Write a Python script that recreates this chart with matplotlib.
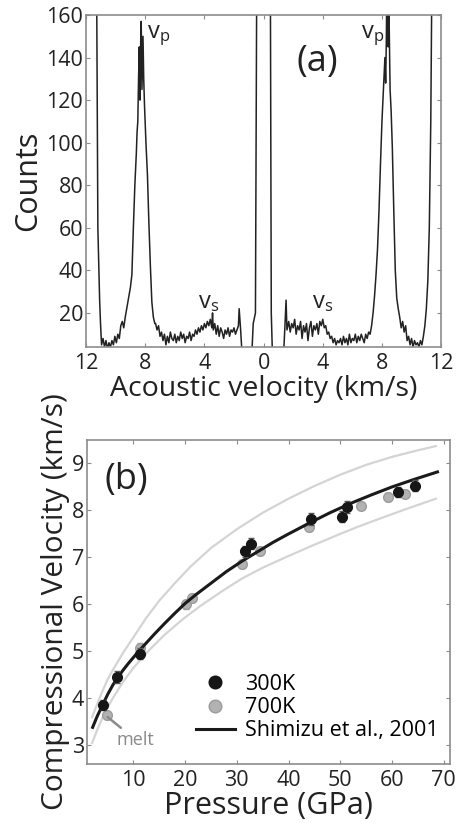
import numpy as np
import matplotlib
matplotlib.use("Agg")
import matplotlib.pyplot as plt
from matplotlib.container import ErrorbarContainer

plt.rcParams["font.family"] = ["Open Sans", "DejaVu Sans"]
plt.rcParams["mathtext.fontset"] = "custom"
plt.rcParams["mathtext.rm"] = "Open Sans"

# (a) spectrum, left half (negative side) and right half
vel_left = [-11.3, -11.2, -11.08, -11.02, -10.95, -10.85, -10.75, -10.65, -10.55, -10.45,
            -10.35, -10.25, -10.15, -10.05, -9.95, -9.85, -9.75, -9.65, -9.55, -9.45,
            -9.35, -9.25, -9.15, -9.05, -9.0, -8.9, -8.8, -8.7, -8.6, -8.55,
            -8.5, -8.45, -8.4, -8.35, -8.3, -8.27, -8.22, -8.15, -8.1, -8.05,
            -7.95, -7.85, -7.75, -7.65, -7.55, -7.45, -7.35, -7.3, -7.2, -7.1,
            -7.0, -6.9, -6.8, -6.7, -6.6, -6.5, -6.4, -6.3, -6.2, -6.1,
            -6.0, -5.9, -5.8, -5.7, -5.6, -5.5, -5.4, -5.3, -5.2, -5.1,
            -5.0, -4.9, -4.8, -4.7, -4.6, -4.5, -4.4, -4.3, -4.2, -4.1,
            -4.0, -3.9, -3.8, -3.7, -3.6, -3.5, -3.45, -3.4, -3.3, -3.2,
            -3.1, -3.0, -2.9, -2.8, -2.7, -2.6, -2.5, -2.4, -2.3, -2.2,
            -2.1, -2.0, -1.9, -1.8, -1.7, -1.65, -1.55, -1.45, -0.8, -0.7,
            -0.55, -0.45]
cnt_left = [200, 60, 26, 15, 5, 8, 4, 7, 3, 6,
            4, 7, 5, 9, 6, 10, 8, 14, 16, 13,
            18, 22, 26, 30, 32, 38, 60, 80, 95, 105,
            110, 130, 145, 120, 150, 157, 125, 150, 130, 118,
            100, 85, 62, 42, 25, 18, 15, 15, 12, 14,
            9, 11, 7, 10, 5, 9, 6, 11, 8, 7,
            10, 6, 9, 7, 11, 8, 10, 6, 9, 8,
            11, 7, 10, 9, 12, 10, 13, 11, 14, 12,
            15, 13, 16, 14, 17, 13, 20, 12, 15, 10,
            14, 9, 13, 11, 8, 12, 10, 13, 9, 12,
            11, 13, 10, 12, 14, 22, 12, 0, 0, 15,
            20, 200]

vel_right = [0.45, 0.52, 0.6, 1.35, 1.45, 1.52, 1.58, 1.7, 1.8, 1.9,
             2.0, 2.1, 2.2, 2.3, 2.4, 2.5, 2.6, 2.7, 2.8, 2.9,
             3.0, 3.1, 3.2, 3.3, 3.4, 3.5, 3.6, 3.7, 3.8, 3.9,
             4.0, 4.1, 4.2, 4.3, 4.4, 4.5, 4.6, 4.7, 4.8, 4.9,
             5.0, 5.1, 5.2, 5.3, 5.4, 5.5, 5.6, 5.7, 5.8, 5.9,
             6.0, 6.1, 6.2, 6.3, 6.4, 6.5, 6.6, 6.7, 6.8, 6.9,
             7.0, 7.1, 7.2, 7.3, 7.4, 7.5, 7.6, 7.7, 7.8, 7.9,
             8.0, 8.1, 8.2, 8.25, 8.3, 8.35, 8.42, 8.48, 8.55, 8.62,
             8.7, 8.8, 8.9, 9.0, 9.1, 9.2, 9.3, 9.4, 9.5, 9.6,
             9.7, 9.8, 9.9, 10.0, 10.1, 10.2, 10.3, 10.4, 10.5, 10.6,
             10.7, 10.8, 10.9, 11.0, 11.1, 11.2, 11.3, 11.4]
cnt_right = [200, 20, 0, 0, 15, 26, 12, 16, 11, 15,
             13, 17, 10, 14, 12, 16, 8, 14, 11, 15,
             7, 13, 16, 9, 14, 12, 15, 10, 16, 14,
             17, 13, 14, 10, 11, 8, 9, 6, 8, 5,
             7, 6, 8, 5, 9, 6, 8, 5, 10, 6,
             8, 7, 10, 6, 9, 7, 10, 8, 6, 10,
             8, 11, 10, 14, 20, 28, 38, 50, 68, 90,
             110, 125, 140, 128, 150, 200, 145, 160, 125, 115,
             98, 68, 40, 27, 22, 18, 13, 16, 11, 14,
             7, 9, 5, 8, 4, 7, 5, 6, 4, 7,
             5, 9, 14, 22, 35, 60, 110, 200]

vel_ticks = [-12, -8, -4, 0, 4, 8, 12]
vel_ticklabels = ["12", "8", "4", "0", "4", "8", "12"]

# (b) velocity vs pressure
p_300 = [4.1, 6.8, 11.2, 31.6, 32.7, 44.3, 50.4, 51.3, 61.2, 64.4]
v_300 = [3.86, 4.45, 4.95, 7.13, 7.29, 7.82, 7.87, 8.07, 8.39, 8.53]
e_300 = [0.1, 0.12, 0.12, 0.12, 0.12, 0.12, 0.12, 0.12, 0.1, 0.12]
p_700 = [4.85, 11.3, 20.2, 21.4, 30.9, 34.5, 44.0, 54.0, 59.3, 62.6]
v_700 = [3.64, 5.07, 6.0, 6.14, 6.86, 7.13, 7.64, 8.1, 8.29, 8.36]
e_700 = [0.08, 0.1, 0.1, 0.08, 0.08, 0.08, 0.08, 0.08, 0.08, 0.08]

p_fit = [2.1, 3, 4, 5, 6, 7, 8, 9, 10, 11, 12, 14, 16, 18, 20, 22, 25, 28, 31, 34,
         37, 40, 44, 48, 52, 56, 60, 64, 68.8]
v_fit = [3.38, 3.62, 3.85, 4.08, 4.28, 4.45, 4.6, 4.74, 4.87, 5.0, 5.12, 5.36, 5.59,
         5.81, 6.02, 6.2, 6.45, 6.7, 6.92, 7.12, 7.32, 7.5, 7.73, 7.95, 8.15, 8.33,
         8.5, 8.65, 8.82]
p_up = [2, 3, 4, 5, 6, 8, 10, 12.4, 15, 18, 21, 25, 30, 35, 40, 45, 50, 55, 60, 65, 68.5]
v_up = [3.6, 3.88, 4.15, 4.4, 4.6, 4.97, 5.3, 5.7, 6.08, 6.45, 6.8, 7.2, 7.6, 7.95,
        8.25, 8.52, 8.76, 8.97, 9.14, 9.28, 9.37]
p_lo = [2, 3, 4, 5, 6, 8, 10, 13, 16, 19.5, 23, 27, 31, 35, 40, 45, 50, 53.6, 58, 63, 68.5]
v_lo = [3.05, 3.33, 3.58, 3.8, 4.0, 4.35, 4.65, 5.02, 5.35, 5.68, 5.97, 6.27, 6.55,
        6.78, 7.03, 7.27, 7.5, 7.66, 7.84, 8.04, 8.25]

spine_c = "#8c8c8c"
txt_c = "#222222"

fig = plt.figure(figsize=(4.6, 8.23), dpi=100)
ax1 = fig.add_axes([0.187, 0.5784, 0.772, 0.4034])
ax2 = fig.add_axes([0.189, 0.0717, 0.789, 0.3937])

for ax in (ax1, ax2):
    for s in ax.spines.values():
        s.set_color(spine_c)
        s.set_linewidth(1.2)
    ax.tick_params(direction="in", top=True, right=True, length=3, color=spine_c,
                   labelsize=15.5, labelcolor=txt_c)
    ax.tick_params(axis="x", pad=4)
    ax.tick_params(axis="y", pad=2)

# panel a
ax1.plot(vel_left, cnt_left, color=txt_c, lw=1.1)
ax1.plot(vel_right, cnt_right, color=txt_c, lw=1.1)
ax1.set_xlim(-12, 12)
ax1.set_ylim(4, 160)
ax1.set_xticks(vel_ticks)
ax1.set_xticklabels(vel_ticklabels)
ax1.set_yticks([20, 40, 60, 80, 100, 120, 140, 160])
ax1.set_xlabel("Acoustic velocity (km/s)", fontsize=20.5, color=txt_c, labelpad=1)
ax1.set_ylabel("Counts", fontsize=22, color=txt_c, labelpad=2)
ax1.text(3.6, 138, "(a)", fontsize=26, ha="center", va="center", color=txt_c)
ax1.text(-7.85, 149, r"$\mathrm{v_p}$", fontsize=17, color=txt_c)
ax1.text(6.6, 149, r"$\mathrm{v_p}$", fontsize=17, color=txt_c)
ax1.text(-4.45, 22.5, r"$\mathrm{v_s}$", fontsize=17, color=txt_c)
ax1.text(3.3, 22.5, r"$\mathrm{v_s}$", fontsize=17, color=txt_c)

# panel b
ax2.plot(p_up, v_up, color="#d4d4d4", lw=1.6, zorder=1)
ax2.plot(p_lo, v_lo, color="#d4d4d4", lw=1.6, zorder=1)
ax2.errorbar(p_700, v_700, yerr=e_700, fmt="o", ms=7, mfc="#b2b2b2", mec="#9c9c9c",
             ecolor="#9c9c9c", elinewidth=1, capsize=2, zorder=2, label="700K")
ax2.plot(p_fit, v_fit, color="#1a1a1a", lw=2.2, zorder=3, label="Shimizu et al., 2001")
ax2.errorbar(p_300, v_300, yerr=e_300, fmt="o", ms=7, mfc="#161616", mec="#161616",
             ecolor="#555555", elinewidth=1, capsize=2, zorder=4, label="300K")
ax2.set_xlim(1, 71.2)
ax2.set_ylim(2.6, 9.5)
ax2.set_xticks([10, 20, 30, 40, 50, 60, 70])
ax2.set_yticks([3, 4, 5, 6, 7, 8, 9])
ax2.set_xlabel("Pressure (GPa)", fontsize=22, color=txt_c, labelpad=0)
ax2.set_ylabel("Compressional Velocity (km/s)", fontsize=21.5, color=txt_c, labelpad=1)
ax2.text(8.7, 8.64, "(b)", fontsize=26, ha="center", va="center", color=txt_c)
ax2.annotate("melt", xy=(5.0, 3.6), xytext=(6.7, 3.12), fontsize=13, color="#8a8a8a",
             va="center", ha="left",
             arrowprops=dict(arrowstyle="-", color="#8a8a8a", lw=1.8, shrinkA=0, shrinkB=0))

h, l = ax2.get_legend_handles_labels()
h = [x[0] if isinstance(x, ErrorbarContainer) else x for x in h]
order = [l.index("300K"), l.index("700K"), l.index("Shimizu et al., 2001")]
ax2.legend([h[i] for i in order], [l[i] for i in order], loc="lower left",
           bbox_to_anchor=(0.30, 0.07), frameon=False, fontsize=15.5, handlelength=1.8,
           handletextpad=0.5, labelspacing=0.1, markerscale=1.3, borderaxespad=0,
           borderpad=0)

fig.savefig("out.png", dpi=100)
